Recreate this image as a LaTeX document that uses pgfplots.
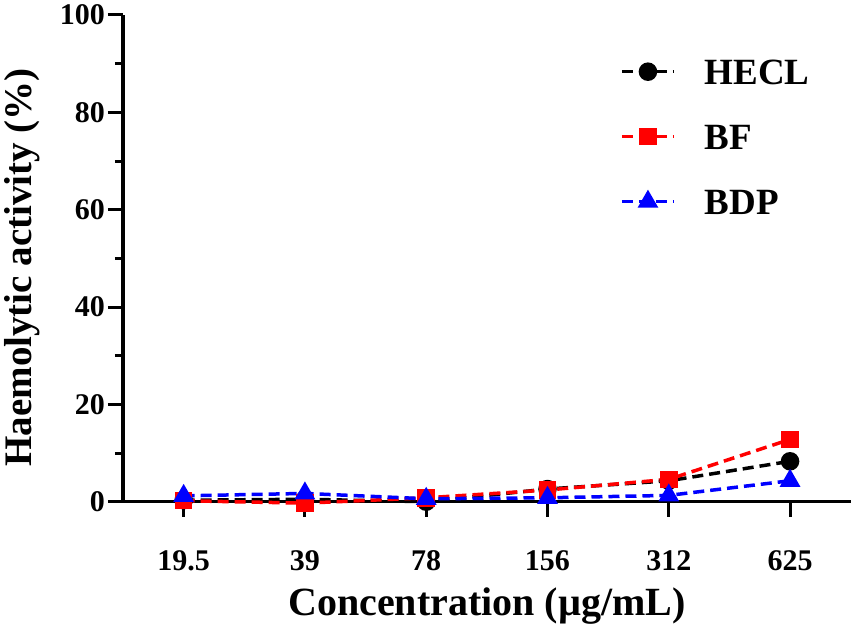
\documentclass[border=0pt]{standalone}
\usepackage{pgfplots}
\pgfplotsset{compat=1.18}
\usepackage{fontspec}
\setmainfont{Liberation Serif}
\usetikzlibrary{calc}
\definecolor{myred}{RGB}{255,0,0}
\definecolor{myblue}{RGB}{0,0,255}
\begin{document}
\begin{tikzpicture}
\useasboundingbox (-123pt,-129.3pt) rectangle (732pt,501.7pt);
\begin{axis}[
  at={(0,0)}, anchor=south west,
  scale only axis, width=727.7pt, height=486.7pt,
  clip=false,
  axis lines=left,
  axis line style={line width=3.5pt, -},
  xmin=-0.5, xmax=5.5, ymin=0, ymax=100,
  xtick={0,1,2,3,4,5},
  xticklabels={19.5,39,78,156,312,625},
  ytick={0,20,40,60,80,100},
  minor ytick={10,30,50,70,90},
  tick align=outside,
  major tick length=15pt, minor tick length=8pt,
  every tick/.style={black, line width=3pt},
  /pgf/number format/assume math mode=true,
  tick label style={font=\fontsize{30}{30}\selectfont\bfseries, inner sep=0pt},
  xticklabel style={anchor=base, yshift=-54pt},
  yticklabel style={anchor=east, xshift=-3pt},
  xlabel={Concentration (µg/mL)},
  ylabel={Haemolytic activity (\%)},
  label style={font=\fontsize{40}{40}\selectfont\bfseries},
  xlabel style={at={(rel axis cs:0.5,0)}, anchor=center, yshift=-104pt},
  ylabel style={at={($(rel axis cs:0,0.5)+(-101pt,-9pt)$)}, anchor=center, rotate=0, font=\fontsize{39}{39}\selectfont\bfseries},
  legend image code/.code={\draw[mark repeat=2,mark phase=2,#1] plot coordinates {(0pt,0pt) (26pt,0pt) (52pt,0pt)};},
  legend cell align=left,
  legend style={draw=none, fill=none, inner sep=0pt,
    at={(rel axis cs:0.683,0.9096)}, anchor=north west,
    font=\fontsize{37}{37}\selectfont\bfseries,
    nodes={inner sep=0pt, text height=25pt, text depth=0pt},
    row sep=40pt,
    /tikz/every odd column/.append style={column sep=29pt}},
  every axis plot/.append style={line width=3.5pt, dash pattern=on 11pt off 6pt},
]
\addplot[black, mark=*, mark size=7.5pt, mark options={solid}] coordinates {
  (0,0.3) (1,0.5) (2,0.0) (3,2.6) (4,4.3) (5,8.3)};
\addlegendentry{HECL}
\addplot[myred, mark=square*, mark size=7pt, mark options={solid}] coordinates {
  (0,0.2) (1,-0.3) (2,0.8) (3,2.4) (4,4.6) (5,12.8)};
\addlegendentry{BF}
\addplot[myblue, mark=triangle*, mark size=8.5pt, mark options={solid}] coordinates {
  (0,1.2) (1,1.7) (2,0.6) (3,0.8) (4,1.3) (5,4.3)};
\addlegendentry{BDP}
\end{axis}
\end{tikzpicture}
\end{document}
